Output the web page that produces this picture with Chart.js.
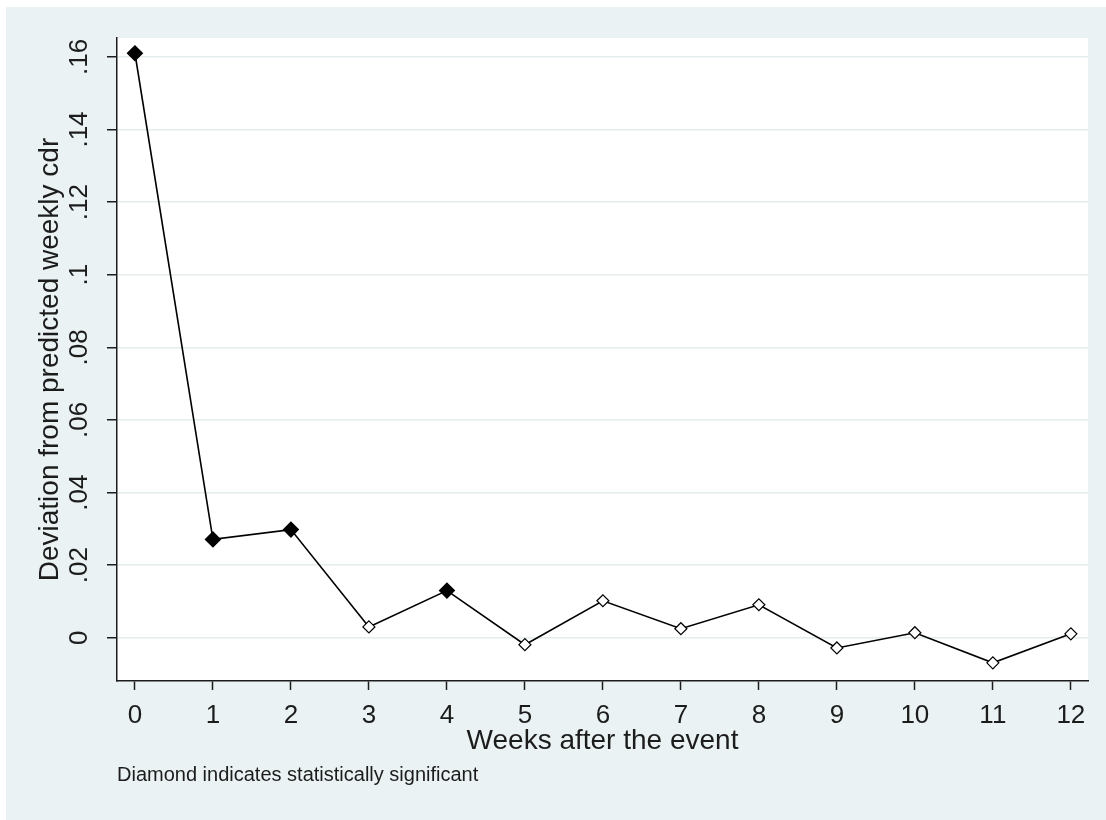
<!DOCTYPE html>
<html>
<head>
<meta charset="utf-8">
<script src="https://cdn.jsdelivr.net/npm/chart.js@4"></script>
<style>
  html, body { margin: 0; padding: 0; background: #eaf2f3; }
  #wrap { position: absolute; left: 0; top: 0; width: 1106px; height: 820px; }
</style>
</head>
<body>
<div id="wrap"><canvas id="c" width="1106" height="820"></canvas></div>
<script>
// ---- data ----
const weeks = [0, 1, 2, 3, 4, 5, 6, 7, 8, 9, 10, 11, 12];
const deviation = [0.161, 0.0271, 0.0298, 0.0030, 0.0130, -0.0019, 0.0102, 0.0025, 0.0091, -0.0028, 0.0014, -0.0069, 0.0011];
const significant = [true, true, true, false, true, false, false, false, false, false, false, false, false];
const xTickValues = [0, 1, 2, 3, 4, 5, 6, 7, 8, 9, 10, 11, 12];
const yTickValues = [0, 0.02, 0.04, 0.06, 0.08, 0.10, 0.12, 0.14, 0.16];
const xTitle = 'Weeks after the event';
const yTitle = 'Deviation from predicted weekly cdr';
const noteText = 'Diamond indicates statistically significant';

const FONT = "'Liberation Sans', Arial, sans-serif";
const INK = '#1c1c1c';
const BG = '#eaf2f3';

function fmtStata(v) {
  const r = Math.round(v * 100) / 100;
  if (r === 0) return '0';
  return String(r).replace(/^0\./, '.').replace(/^-0\./, '-.');
}

const backgroundPlugin = {
  id: 'stataBackground',
  beforeDraw(chart) {
    const { ctx, chartArea } = chart;
    ctx.save();
    ctx.fillStyle = BG;
    ctx.fillRect(0, 0, 5000, 5000);
    ctx.fillStyle = '#ffffff';
    ctx.fillRect(0, 0, 6, 5000);
    ctx.fillRect(0, 0, 5000, 7);
    ctx.fillRect(chartArea.left, chartArea.top, chartArea.right - chartArea.left, chartArea.bottom - chartArea.top);
    ctx.restore();
  }
};

new Chart(document.getElementById('c'), {
  type: 'line',
  data: {
    datasets: [{
      data: weeks.map((w, i) => ({ x: w, y: deviation[i] })),
      borderColor: '#000000',
      borderWidth: 1.6,
      tension: 0,
      fill: false,
      pointStyle: 'rectRot',
      pointRadius: significant.map(s => s ? 7.5 : 6),
      pointHoverRadius: significant.map(s => s ? 7.5 : 6),
      pointBackgroundColor: significant.map(s => s ? '#000000' : '#ffffff'),
      pointBorderColor: '#000000',
      pointBorderWidth: 1.2,
      clip: false
    }]
  },
  options: {
    responsive: false,
    animation: false,
    layout: { padding: { left: 0, top: 38, right: 18, bottom: 33 } },
    plugins: {
      legend: { display: false },
      tooltip: { enabled: false },
      subtitle: {
        display: true,
        text: noteText,
        position: 'bottom',
        align: 'start',
        fullSize: false,
        color: INK,
        font: { family: FONT, size: 20, weight: 'normal' },
        padding: { top: 0, bottom: 0 }
      }
    },
    scales: {
      x: {
        type: 'linear',
        min: -0.23,
        max: 12.22,
        afterBuildTicks: s => { s.ticks = xTickValues.map(v => ({ value: v })); },
        afterFit: s => { s.height = 82; },
        grid: { drawOnChartArea: false, drawTicks: true, tickLength: 9, tickColor: INK, tickWidth: 1.5 },
        border: { display: true, color: INK, width: 1.5 },
        ticks: { color: INK, font: { family: FONT, size: 26 }, padding: 10, maxRotation: 0, autoSkip: false },
        title: { display: true, text: xTitle, color: INK, font: { family: FONT, size: 28 }, padding: { top: 0, bottom: 5 } }
      },
      y: {
        type: 'linear',
        min: -0.0119,
        max: 0.1652,
        afterBuildTicks: s => { s.ticks = yTickValues.map(v => ({ value: v })); },
        afterFit: s => { s.width = 117; },
        grid: { color: '#e4ecee', lineWidth: 1.5, drawTicks: true, tickLength: 10, tickColor: INK, tickWidth: 1.5 },
        border: { display: true, color: INK, width: 1.5 },
        ticks: {
          color: INK,
          font: { family: FONT, size: 26 },
          minRotation: 90, maxRotation: 90,
          crossAlign: 'center',
          padding: 9,
          autoSkip: false,
          callback: v => fmtStata(v)
        },
        title: { display: true, text: yTitle, color: INK, font: { family: FONT, size: 28 }, padding: { top: 33, bottom: 0 } }
      }
    }
  },
  plugins: [backgroundPlugin]
});
</script>
</body>
</html>
